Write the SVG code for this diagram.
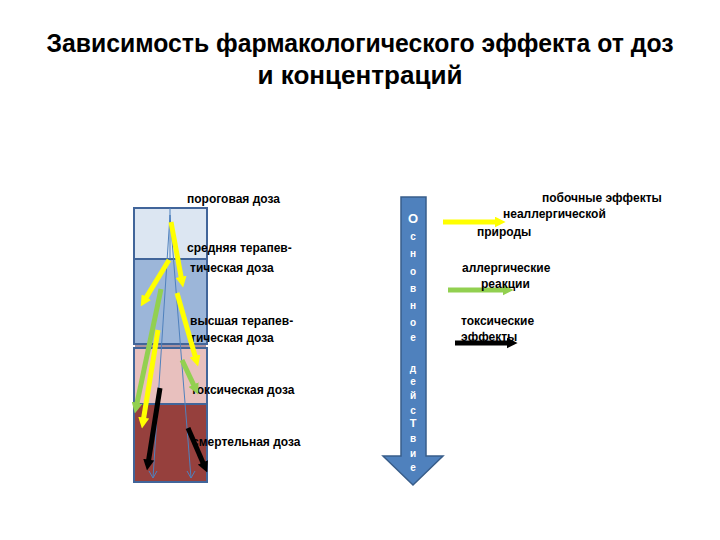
<svg xmlns="http://www.w3.org/2000/svg" width="720" height="540" viewBox="0 0 720 540">
<style>
.title{font-family:"Liberation Sans",Arial,sans-serif;font-weight:bold;font-size:26px;fill:#000}
.lbl{font-family:"Liberation Sans",Arial,sans-serif;font-weight:bold;font-size:12px;fill:#000}
.let{font-family:"Liberation Sans",Arial,sans-serif;font-weight:bold;font-size:10px;fill:#fff;text-anchor:middle}
.seg{stroke:#41659a;stroke-width:2}
.thin{stroke:#4f81bd;stroke-width:1;fill:none}
.ay{stroke:#ffff00;stroke-width:5;marker-end:url(#hy)}
.ag{stroke:#92d050;stroke-width:5;marker-end:url(#hg)}
.ab{stroke:#000;stroke-width:5;marker-end:url(#hb)}
</style>
<defs>
<marker id="hy" viewBox="0 0 10 10" refX="4" refY="5" markerWidth="2.2" markerHeight="2.2" orient="auto"><path d="M0,0L10,5L0,10z" fill="#ffff00"/></marker>
<marker id="hg" viewBox="0 0 10 10" refX="4" refY="5" markerWidth="2.2" markerHeight="2.2" orient="auto"><path d="M0,0L10,5L0,10z" fill="#92d050"/></marker>
<marker id="hb" viewBox="0 0 10 10" refX="4" refY="5" markerWidth="2.2" markerHeight="2.2" orient="auto"><path d="M0,0L10,5L0,10z" fill="#000"/></marker>
</defs>
<rect width="720" height="540" fill="#fff"/>
<g id="title">
<text class="title" x="360" y="52" text-anchor="middle" textLength="627" lengthAdjust="spacingAndGlyphs">Зависимость фармакологического эффекта от доз</text>
<text class="title" x="360" y="84" text-anchor="middle" textLength="205" lengthAdjust="spacingAndGlyphs">и концентраций</text>
</g>
<g id="dose-column">
<rect class="seg" x="134" y="208" width="73" height="51" fill="#dce6f2"/>
<rect class="seg" x="134" y="259" width="73" height="85" fill="#9cb6d9"/>
<rect x="135" y="344" width="71" height="4" fill="#a9919f"/>
<rect class="seg" x="134" y="348" width="73" height="56" fill="#e8c0be"/>
<rect class="seg" x="134" y="404" width="73" height="78" fill="#96403d"/>
<line class="seg" x1="134" y1="344" x2="207" y2="344"/>
</g>
<g id="dose-labels">
<text class="lbl" x="187" y="203">пороговая доза</text>
<text class="lbl" x="187" y="252">средняя терапев-</text>
<text class="lbl" x="190" y="272">тическая доза</text>
<text class="lbl" x="190" y="325">высшая терапев-</text>
<text class="lbl" x="190" y="342">тическая доза</text>
<text class="lbl" x="191" y="394">токсическая доза</text>
<text class="lbl" x="192" y="446">смертельная доза</text>
</g>
<g id="connectors">
<line class="thin" x1="170" y1="208" x2="170" y2="259"/>
<line class="thin" x1="170" y1="215" x2="153" y2="478"/>
<line class="thin" x1="170" y1="215" x2="191" y2="478"/>
<path class="thin" d="M149,471L153,478L157,471M187,471L191,478L195,471"/>
<line class="ag" x1="161" y1="289" x2="136.2" y2="407.1"/>
<line class="ay" x1="171" y1="222" x2="181.9" y2="281.1"/>
<line class="ay" x1="169" y1="260" x2="144.1" y2="300.9"/>
<line class="ay" x1="177" y1="293" x2="196.3" y2="360.2"/>
<line class="ay" x1="158" y1="330" x2="143" y2="422"/>
<line class="ag" x1="182" y1="360" x2="195.4" y2="388.6"/>
<line class="ab" x1="160" y1="388" x2="148" y2="464"/>
<line class="ab" x1="188" y1="428" x2="204.6" y2="466.5"/>
<line class="ay" x1="443" y1="222" x2="499" y2="222"/>
<line class="ag" x1="448" y1="290" x2="507" y2="290"/>
<line class="ab" x1="455" y1="343" x2="511" y2="343"/>
</g>
<g id="main-arrow">
<path d="M401,197H426V456H443L413,485L383,456H401Z" fill="#4f81bd" stroke="#385d8a" stroke-width="1.5"/>
<text class="let" x="413" y="223" style="font-size:13px">О</text>
<text class="let" x="413" y="240">с</text>
<text class="let" x="413" y="257">н</text>
<text class="let" x="413" y="275">о</text>
<text class="let" x="413" y="292">в</text>
<text class="let" x="413" y="309">н</text>
<text class="let" x="413" y="326">о</text>
<text class="let" x="413" y="341">е</text>
<text class="let" x="413" y="372">д</text>
<text class="let" x="413" y="385">е</text>
<text class="let" x="413" y="399">й</text>
<text class="let" x="413" y="414">с</text>
<text class="let" x="413" y="427" style="font-size:11px">Т</text>
<text class="let" x="413" y="442">в</text>
<text class="let" x="413" y="457">и</text>
<text class="let" x="413" y="471">е</text>
</g>
<g id="effect-labels">
<text class="lbl" x="542" y="202">побочные эффекты</text>
<text class="lbl" x="503" y="218">неаллергической</text>
<text class="lbl" x="477" y="236">природы</text>
<text class="lbl" x="462" y="272">аллергические</text>
<text class="lbl" x="481" y="288">реакции</text>
<text class="lbl" x="461" y="325">токсические</text>
<text class="lbl" x="461" y="341">эффекты</text>
</g>
</svg>
